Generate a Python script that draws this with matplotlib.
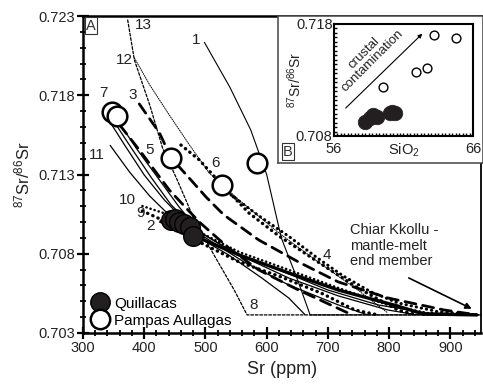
import matplotlib
matplotlib.use("Agg")
import matplotlib.pyplot as plt
from matplotlib.lines import Line2D
from matplotlib.ticker import MultipleLocator

plt.rcParams['font.family'] = ['Liberation Sans', 'DejaVu Sans']
plt.rcParams['mathtext.fontset'] = 'custom'
plt.rcParams['mathtext.rm'] = 'Liberation Sans'
plt.rcParams['mathtext.it'] = 'Liberation Sans:italic'

# samples
quill_sr = [443, 450, 457, 465, 474, 479]
quill_r = [0.7101, 0.7102, 0.7100, 0.7099, 0.7097, 0.7091]
pampas_sr = [347, 355, 443, 527, 584]
pampas_r = [0.71696, 0.71672, 0.71402, 0.71234, 0.71371]

# inset (SiO2 vs 87Sr/86Sr)
quill_si = [58.2, 58.6, 58.8, 59.1, 60.0, 60.2, 60.4]
quill_si_r = [0.70928, 0.70960, 0.70988, 0.70967, 0.71003, 0.71017, 0.71008]
pampas_si = [59.5, 61.9, 62.7, 63.2, 64.8]
pampas_si_r = [0.71235, 0.71374, 0.71404, 0.71702, 0.71672]

# mixing curves (Sr ppm, 87Sr/86Sr)
c1_sr = [498, 540, 574, 600, 624, 650, 671, 950]
c1_r = [0.72136, 0.71850, 0.71581, 0.71300, 0.70899, 0.70640, 0.70414, 0.70414]
c2_sr = [425, 482, 555, 636, 717, 814, 855, 944]
c2_r = [0.71007, 0.70912, 0.70792, 0.70679, 0.70571, 0.7047, 0.7042, 0.70414]
c3_sr = [392, 425, 444, 469, 501, 530, 587, 652, 717, 798, 890, 944]
c3_r = [0.71745, 0.71562, 0.71404, 0.71297, 0.71158, 0.71045, 0.70887, 0.70748,
        0.70622, 0.70521, 0.70445, 0.70414]
c4_sr = [535, 587, 636, 684, 725, 770, 814, 879, 944]
c4_r = [0.7119, 0.7104, 0.7091, 0.7077, 0.7066, 0.7056, 0.7049, 0.70435, 0.70414]
c5_sr = [360, 392, 441, 490, 538, 587, 652, 733]
c5_r = [0.71612, 0.71455, 0.71202, 0.71000, 0.70836, 0.70698, 0.70571, 0.70426]
c6_sr = [460, 490, 527, 571, 620, 684, 749, 814, 846]
c6_r = [0.71486, 0.71392, 0.71234, 0.71057, 0.70912, 0.70748, 0.70584, 0.70445, 0.70414]
c7a_sr = [340, 368, 400, 433, 473, 538, 620, 700, 782, 863, 944]
c7a_r = [0.71656, 0.71486, 0.71297, 0.71139, 0.70981, 0.70824, 0.70698, 0.70571,
         0.70477, 0.70426, 0.70414]
c7b_sr = [349, 379, 412, 444, 490, 555, 636, 717, 798, 846]
c7b_r = [0.71644, 0.71467, 0.71278, 0.71108, 0.70937, 0.70792, 0.70647, 0.70534,
         0.70445, 0.70414]
c7c_sr = [357, 389, 425, 457, 498, 563, 636, 717, 765]
c7c_r = [0.71638, 0.71455, 0.71265, 0.71095, 0.70906, 0.70748, 0.70603, 0.70477, 0.70414]
c9_sr = [397, 433, 490, 555, 624, 689, 744, 782]
c9_r = [0.7107, 0.71007, 0.70874, 0.70748, 0.70653, 0.70552, 0.70445, 0.70414]
c10_sr = [397, 441, 490, 555, 636, 717, 798, 863, 944]
c10_r = [0.71101, 0.71045, 0.70937, 0.70811, 0.70698, 0.70584, 0.70477, 0.70426, 0.70414]
c11_sr = [344, 376, 409, 449, 490, 538, 592, 636, 663]
c11_r = [0.71486, 0.71316, 0.71164, 0.71013, 0.70900, 0.70792, 0.70647, 0.70521, 0.70414]
c12_sr = [384, 409, 441, 474, 506, 555, 620, 684, 749, 798]
c12_r = [0.72035, 0.71865, 0.71675, 0.71486, 0.7131, 0.71139, 0.70931, 0.70748,
         0.70571, 0.70426]
c13_sr = [373, 384, 409, 430, 454, 482, 514, 547, 568, 950]
c13_r = [0.72275, 0.72022, 0.71739, 0.71467, 0.71265, 0.71013, 0.70792, 0.70571,
         0.70414, 0.70414]

curve_labels = ['1', '13', '12', '3', '7', '5', '6', '11', '10', '9', '2', '4', '8']
label_sr = [485, 399, 368, 381, 334, 409, 517, 323, 373, 394, 410, 698, 579]
label_r = [0.72149, 0.72243, 0.72022, 0.71802, 0.71814, 0.71455, 0.71373, 0.71423,
           0.71139, 0.71057, 0.70975, 0.70790, 0.70477]

fig = plt.figure(figsize=(4.83, 3.85), dpi=100)
ax = fig.add_axes([0.1718, 0.1351, 0.824, 0.8233])

thin_dot = (0, (1, 1.3))
dash_dot = (0, (2.2, 1.4))
thick_dash = (0, (4, 2.5))
round_dot = (0, (0.1, 1.6))

def curve(x, y, ls, lw, **kw):
    ax.plot(x, y, color='black', linestyle=ls, linewidth=lw,
            dash_capstyle='round', solid_capstyle='butt', zorder=2, **kw)

curve(c1_sr, c1_r, '-', 0.8)
curve(c13_sr, c13_r, dash_dot, 0.9)
curve(c12_sr, c12_r, thin_dot, 0.7)
curve(c3_sr, c3_r, thick_dash, 2.0)
curve(c5_sr, c5_r, thick_dash, 2.0)
curve(c6_sr, c6_r, round_dot, 2.4)
curve(c4_sr, c4_r, round_dot, 2.2)
curve(c7a_sr, c7a_r, '-', 0.9)
curve(c7b_sr, c7b_r, '-', 0.9)
curve(c7c_sr, c7c_r, '-', 0.9)
curve(c11_sr, c11_r, '-', 0.9)
curve(c2_sr, c2_r, '-', 2.4)
curve(c9_sr, c9_r, round_dot, 2.4)
curve(c10_sr, c10_r, round_dot, 1.8)

ax.scatter(pampas_sr, pampas_r, s=200, facecolor='white', edgecolor='black',
           linewidth=1.8, zorder=4)
ax.scatter(quill_sr, quill_r, s=200, facecolor='#231f20', edgecolor='black',
           linewidth=1.0, zorder=5)

for t, x, y in zip(curve_labels, label_sr, label_r):
    ax.text(x, y, t, fontsize=11, ha='center', va='center', color='#222222')

ax.text(736, 0.70994, 'Chiar Kkollu -\nmantle-melt\nend member', fontsize=10.5,
        ha='left', va='top', linespacing=1.15, color='#222222')
ax.annotate('', xy=(939, 0.70445), xytext=(828, 0.70655),
            arrowprops=dict(arrowstyle='-|>', color='black', lw=1.2,
                            mutation_scale=9))

ax.text(0.008, 0.992, 'A', transform=ax.transAxes, fontsize=10.5, ha='left',
        va='top', color='#333333',
        bbox=dict(boxstyle='square,pad=0.1', fc='white', ec='#333333', lw=0.8))

handles = [Line2D([], [], marker='o', ls='', ms=14, mfc='#231f20', mec='black', mew=1.0),
           Line2D([], [], marker='o', ls='', ms=14, mfc='white', mec='black', mew=1.8)]
ax.legend(handles, ['Quillacas', 'Pampas Aullagas'], loc='lower left', frameon=False,
          fontsize=11, handletextpad=0.2, borderaxespad=0.15, labelspacing=0.2,
          handlelength=1.5, borderpad=0.2)

ax.set_xlim(300, 950)
ax.set_ylim(0.703, 0.723)
ax.set_xticks([300, 400, 500, 600, 700, 800, 900])
ax.set_yticks([0.703, 0.708, 0.713, 0.718, 0.723])
ax.set_yticklabels(['0.703', '0.708', '0.713', '0.718', '0.723'])
ax.xaxis.set_minor_locator(MultipleLocator(20))
ax.yaxis.set_minor_locator(MultipleLocator(0.001))
ax.tick_params(which='major', direction='inout', length=8, width=1.6,
               labelsize=10.5, labelcolor='#222222', pad=2)
ax.tick_params(which='minor', direction='inout', length=5, width=1.3)
for s in ax.spines.values():
    s.set_linewidth(1.3)
ax.spines['left'].set_linewidth(1.8)
ax.spines['bottom'].set_linewidth(1.8)
ax.spines['top'].set_linewidth(1.8)
ax.set_xlabel('Sr (ppm)', fontsize=13, color='#222222', labelpad=4)
ax.set_ylabel(r'$^{87}$Sr/$^{86}$Sr', fontsize=12, color='#222222', labelpad=4)

# inset box
box = fig.add_axes([0.5756, 0.5766, 0.4244, 0.3818])
box.set_xticks([])
box.set_yticks([])
box.set_facecolor('white')
for s in box.spines.values():
    s.set_linewidth(1.1)
    s.set_color('#444444')
box.text(0.025, 0.03, 'B', transform=box.transAxes, fontsize=10.5, ha='left',
         va='bottom', color='#333333',
         bbox=dict(boxstyle='square,pad=0.1', fc='white', ec='#333333', lw=0.8))

ins = fig.add_axes([0.6915, 0.6468, 0.2878, 0.2909])
ins.scatter(pampas_si, pampas_si_r, s=40, facecolor='white', edgecolor='black',
            linewidth=1.0, zorder=3)
ins.scatter(quill_si, quill_si_r, s=110, facecolor='#231f20', edgecolor='#231f20',
            linewidth=0.5, zorder=3)
ins.annotate('', xy=(62.5, 0.71731), xytext=(56.7, 0.71032),
             arrowprops=dict(arrowstyle='-|>', color='black', lw=0.8, mutation_scale=6))
ins.text(58.45, 0.71505, 'crustal\ncontamination', rotation=45, fontsize=9.5,
         ha='center', va='center', linespacing=0.95, color='#222222',
         rotation_mode='default')
ins.set_xlim(56, 66)
ins.set_ylim(0.708, 0.718)
ins.set_xticks([56, 66])
ins.set_yticks([0.708, 0.718])
ins.set_yticklabels(['0.708', '0.718'])
ins.xaxis.set_minor_locator(MultipleLocator(0.25))
ins.yaxis.set_minor_locator(MultipleLocator(0.0004))
ins.tick_params(which='major', direction='in', length=4, width=1.2,
                labelsize=10.5, labelcolor='#222222', pad=1)
ins.tick_params(axis='x', which='major', pad=4)
ins.tick_params(which='minor', direction='in', length=2.5, width=1.0)
for s in ins.spines.values():
    s.set_linewidth(1.5)
ins.set_xlabel(r'SiO$_2$', fontsize=10.5, color='#222222', labelpad=-10)
ins.set_ylabel(r'$^{87}$Sr/$^{86}$Sr', fontsize=10, color='#222222', labelpad=-6)

fig.savefig('out.png', dpi=100)
